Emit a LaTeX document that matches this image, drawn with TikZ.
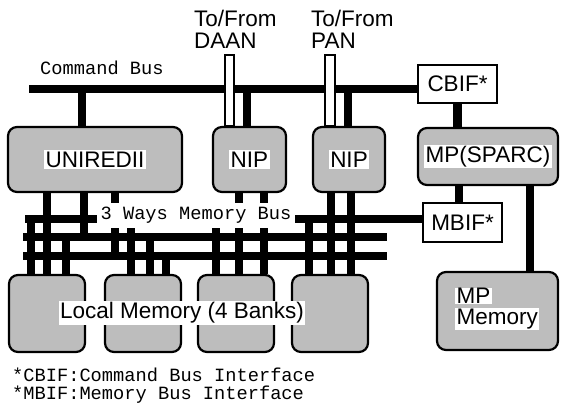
\documentclass[tikz,border=0pt]{standalone}
\usepackage{fontspec}
\setmainfont{Liberation Sans}
\newfontfamily\busfont{Liberation Mono}
\pgfdeclarelayer{wires}
\pgfsetlayers{wires,main}
\tikzset{
  unit/.style={draw,line width=2.2pt,rounded corners=9pt,fill=black!26,inner sep=0pt},
  iface/.style={draw,line width=1.3pt,fill=white,inner sep=0pt},
  tag/.style={fill=white,inner sep=1.5pt},
  bus/.style={line width=8.5pt},
  pipe/.style={draw,line width=1.3pt,fill=white},
  mono/.style={font=\busfont\fontsize{18.7}{20}\selectfont,inner sep=0pt},
}

\begin{document}
\begin{tikzpicture}[x=1pt,y=-1pt,font=\fontsize{22.5}{22}\selectfont]
\useasboundingbox (0,0) rectangle (567,406);

\node[unit,minimum width=174pt,minimum height=65pt,label={[tag]center:UNIREDII}] (unired) at (95,159.5) {};
\node[unit,minimum width=73pt,minimum height=65pt,label={[tag]center:NIP}] (nipa) at (249.5,159.5) {};
\node[unit,minimum width=72pt,minimum height=65pt,label={[tag]center:NIP}] (nipb) at (349,159.5) {};
\node[unit,minimum width=140pt,minimum height=57pt,label={[tag]center:MP(SPARC)}] (mp) at (488,156.5) {};
\node[iface,minimum width=79pt,minimum height=38pt] (cbif) at (457.5,84) {CBIF*};
\node[iface,minimum width=79pt,minimum height=39pt] (mbif) at (462.5,222.5) {MBIF*};
\node[unit,minimum width=121pt,minimum height=78pt] (mpmem) at (497.5,311) {};
\node[unit,minimum width=76pt,minimum height=77pt] (bank1) at (47,313.5) {};
\node[unit,minimum width=76pt,minimum height=77pt] (bank2) at (143,313.5) {};
\node[unit,minimum width=76pt,minimum height=77pt] (bank3) at (236,313.5) {};
\node[unit,minimum width=76pt,minimum height=77pt] (bank4) at (330,313.5) {};

\coordinate (cmd) at (29,89);
\coordinate (way1) at (25,219);
\coordinate (way2) at (23,237);
\coordinate (way3) at (23,256);

\begin{pgfonlayer}{wires}
\draw[bus] (cmd) -- (cbif.west |- cmd);
\draw[bus] (82,0 |- cmd) -- (unired.north -| 82,0);
\draw[bus] (247,0 |- cmd) -- (nipa.north -| 247,0);
\draw[bus] (348,0 |- cmd) -- (nipb.north -| 348,0);
\draw[bus] (cbif.south) -- (mp.north -| cbif.south);
\draw[bus] (mp.south -| 459,0) -- (mbif.north -| 459,0);
\draw[bus] (mp.south -| 530,0) -- (mpmem.north -| 530,0);
\draw[pipe] (225,55) rectangle (nipa.north -| 234,0);
\draw[pipe] (325,55) rectangle (nipb.north -| 335,0);
\draw[bus] (way1) -- (mbif.west |- way1);
\draw[bus] (way2) -- (387,0 |- way2);
\draw[bus] (way3) -- (387,0 |- way3);
\draw[bus] (unired.south -| 47,0) -- (bank1.north -| 47,0);
\draw[bus] (unired.south -| 84,0) -- (84,0 |- way2);
\draw[bus] (unired.south -| 115,0) -- (115,0 |- way3);
\draw[bus] (31,0 |- way1) -- (bank1.north -| 31,0);
\draw[bus] (66,0 |- way2) -- (bank1.north -| 66,0);
\draw[bus] (131,0 |- way1) -- (bank2.north -| 131,0);
\draw[bus] (150,0 |- way2) -- (bank2.north -| 150,0);
\draw[bus] (166,0 |- way3) -- (bank2.north -| 166,0);
\draw[bus] (216,0 |- way1) -- (bank3.north -| 216,0);
\draw[bus] (nipa.south -| 239,0) -- (bank3.north -| 239,0);
\draw[bus] (nipa.south -| 264,0) -- (bank3.north -| 264,0);
\draw[bus] (309,0 |- way1) -- (bank4.north -| 309,0);
\draw[bus] (nipb.south -| 331,0) -- (bank4.north -| 331,0);
\draw[bus] (nipb.south -| 351,0) -- (bank4.north -| 351,0);
\end{pgfonlayer}

\node[mono,fill=white,inner xsep=4pt,minimum height=25pt] (waylabel) at (196,215.5) {3 Ways Memory Bus};
\node[tag] (banklabel) at (182,313) {Local Memory (4 Banks)};
\node[tag,inner ysep=0.5pt,anchor=west] (mpmemA) at (455,296) {MP};
\node[tag,inner ysep=0.5pt,anchor=west] (mpmemB) at (455,319) {Memory};
\node[anchor=west,align=left,inner sep=0pt] (daan) at (194,29) {To/From\\DAAN};
\node[anchor=west,align=left,inner sep=0pt] (pan) at (311,29) {To/From\\PAN};
\node[mono,anchor=west] (cmdlabel) at (40,68) {Command Bus};
\node[mono,anchor=west] (noteA) at (12,375) {*CBIF:Command Bus Interface};
\node[mono,anchor=west] (noteB) at (12,395) {*MBIF:Memory Bus Interface};
\end{tikzpicture}
\end{document}
